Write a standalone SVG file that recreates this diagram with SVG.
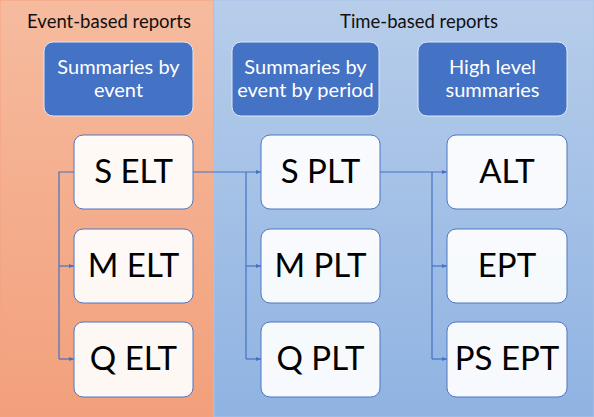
<svg xmlns="http://www.w3.org/2000/svg" width="594" height="417" viewBox="0 0 594 417">
<defs>
<linearGradient id="gOr" x1="0" y1="0" x2="0" y2="1">
<stop offset="0" stop-color="#f6bb9f"/>
<stop offset="1" stop-color="#f2a07b"/>
</linearGradient>
<linearGradient id="gBl" x1="0" y1="0" x2="0" y2="1">
<stop offset="0" stop-color="#b7cdea"/>
<stop offset="1" stop-color="#8fb3e2"/>
</linearGradient>
<marker id="arr" viewBox="0 0 10 10" refX="10" refY="5" markerWidth="7" markerHeight="5" orient="auto" markerUnits="userSpaceOnUse">
<path d="M0,1 L10,5 L0,9 z" fill="#4472c4"/>
</marker>
<style>
.title{font-family:Lato,"Liberation Sans",sans-serif;font-size:18.5px;fill:#111;text-anchor:middle}
.hdr rect{fill:#4472c4;stroke:#dfe8f5;stroke-width:1}
.hdr text{font-family:Lato,"Liberation Sans",sans-serif;font-size:20px;fill:#fff;text-anchor:middle}
.node rect{fill:#ffffff;fill-opacity:0.92;stroke:#4f76c0;stroke-width:1}
.node text{font-family:Lato,"Liberation Sans",sans-serif;font-size:33px;fill:#000;text-anchor:middle}
.conn path{fill:none;stroke:#4472c4;stroke-width:1.2}
</style>
</defs>
<rect x="0" y="0" width="214" height="417" fill="url(#gOr)" stroke="#f4a27e" stroke-width="1"/>
<rect x="214" y="0" width="380" height="417" fill="url(#gBl)" stroke="#a9c4e8" stroke-width="1"/>
<text class="title" x="109" y="28">Event-based reports</text>
<text class="title" x="419" y="28">Time-based reports</text>

<g id="hdr1" class="hdr"><rect x="44" y="42" width="149" height="74" rx="9"/><text x="118.5" y="74">Summaries by</text><text x="118.5" y="97">event</text></g>
<g id="hdr2" class="hdr"><rect x="232" y="42" width="147" height="74" rx="9"/><text x="305.5" y="74">Summaries by</text><text x="305.5" y="97">event by period</text></g>
<g id="hdr3" class="hdr"><rect x="418" y="42" width="149" height="74" rx="9"/><text x="492.5" y="74">High level</text><text x="492.5" y="97">summaries</text></g>

<g class="conn" id="connectors">
<path d="M74,172 H59 V359"/>
<path d="M59,266 H74" marker-end="url(#arr)"/>
<path d="M59,359 H74" marker-end="url(#arr)"/>
<path d="M193,172 H261" marker-end="url(#arr)"/>
<path d="M246,172 V359"/>
<path d="M246,266 H261" marker-end="url(#arr)"/>
<path d="M246,359 H261" marker-end="url(#arr)"/>
<path d="M380,172 H447" marker-end="url(#arr)"/>
<path d="M432,172 V359"/>
<path d="M432,266 H447" marker-end="url(#arr)"/>
<path d="M432,359 H447" marker-end="url(#arr)"/>
</g>

<g id="sElt" class="node"><rect x="74" y="135" width="119" height="74" rx="9"/><text x="133.5" y="183">S ELT</text></g>
<g id="mElt" class="node"><rect x="74" y="229" width="119" height="74" rx="9"/><text x="133.5" y="277">M ELT</text></g>
<g id="qElt" class="node"><rect x="74" y="322" width="119" height="75" rx="9"/><text x="133.5" y="370">Q ELT</text></g>
<g id="sPlt" class="node"><rect x="261" y="135" width="119" height="74" rx="9"/><text x="320.5" y="183">S PLT</text></g>
<g id="mPlt" class="node"><rect x="261" y="229" width="119" height="74" rx="9"/><text x="320.5" y="277">M PLT</text></g>
<g id="qPlt" class="node"><rect x="261" y="322" width="119" height="75" rx="9"/><text x="320.5" y="370">Q PLT</text></g>
<g id="alt" class="node"><rect x="447" y="135" width="120" height="74" rx="9"/><text x="507" y="183">ALT</text></g>
<g id="ept" class="node"><rect x="447" y="229" width="120" height="74" rx="9"/><text x="507" y="277">EPT</text></g>
<g id="psEpt" class="node"><rect x="447" y="322" width="120" height="75" rx="9"/><text x="507" y="370">PS EPT</text></g>
</svg>
